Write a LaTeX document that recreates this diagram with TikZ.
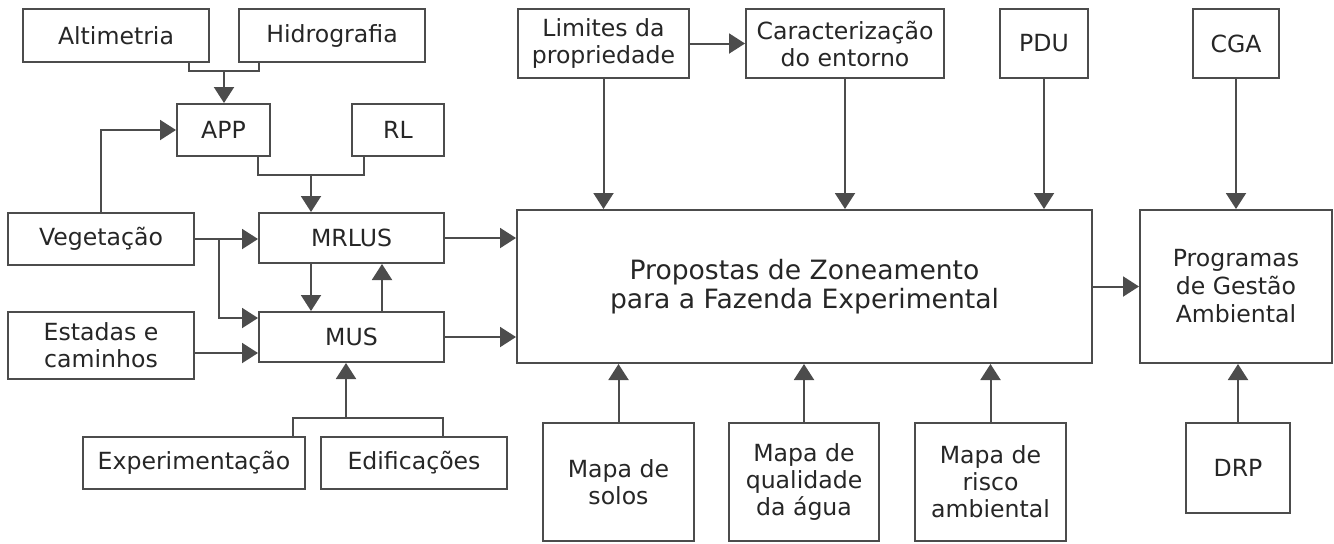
\documentclass[tikz,border=0pt]{standalone}
\usepackage{fontspec}
\setmainfont{DejaVu Sans}
\usetikzlibrary{arrows.meta}
\begin{document}
\begin{tikzpicture}[x=0.5pt, y=-0.5pt,
    box/.style={draw=black!70, line width=1pt, text=black!85, align=center, inner sep=0pt, font=\fontsize{11.8}{13.5}\selectfont},
    ln/.style={draw=black!70, line width=1pt},
    arr/.style={draw=black!70, line width=1pt, -{Triangle[length=8pt,width=10pt]}}]
\useasboundingbox (0,0) rectangle (1334,543);
% left side
\node[box, minimum width=93pt, minimum height=26.5pt] (alt) at (116,35.5) {Altimetria};
\node[box, minimum width=93pt, minimum height=26.5pt] (hid) at (332,35.5) {Hidrografia};
\node[box, minimum width=46.5pt, minimum height=26pt] (app) at (223.5,130) {APP};
\node[box, minimum width=46pt, minimum height=26pt] (rl) at (398,130) {RL};
\node[box, minimum width=93pt, minimum height=26pt] (veg) at (101,239) {Vegetação};
\node[box, minimum width=92.5pt, minimum height=25pt] (mrlus) at (351.5,238) {MRLUS};
\node[box, minimum width=93pt, minimum height=33.5pt] (est) at (101,345.5) {Estadas e\\caminhos};
\node[box, minimum width=92.5pt, minimum height=25pt] (mus) at (351.5,337) {MUS};
\node[box, minimum width=111pt, minimum height=26pt] (exp) at (194,463) {Experimentação};
\node[box, minimum width=93pt, minimum height=26pt] (edi) at (414,463) {Edificações};
% top row
\node[box, minimum width=85.5pt, minimum height=34.5pt] (lim) at (603.5,43.5) {Limites da\\propriedade};
\node[box, minimum width=99pt, minimum height=34.5pt] (car) at (845,43.5) {Caracterização\\do entorno};
\node[box, minimum width=44pt, minimum height=34.5pt] (pdu) at (1044,43.5) {PDU};
\node[box, minimum width=43pt, minimum height=34.5pt] (cga) at (1236,43.5) {CGA};
% centre
\node[box, minimum width=287.5pt, minimum height=76.5pt, font=\fontsize{13.3}{14.5}\selectfont] (prop) at (804.5,286.5) {Propostas de Zoneamento\\para a Fazenda Experimental};
\node[box, minimum width=96pt, minimum height=76.5pt, font=\fontsize{11.8}{14}\selectfont] (prog) at (1236,286.5) {Programas\\de Gestão\\Ambiental};
% bottom row
\node[box, minimum width=75.5pt, minimum height=59pt] (solos) at (618.5,482) {Mapa de\\solos};
\node[box, minimum width=75pt, minimum height=59pt] (agua) at (804,482) {Mapa de\\qualidade\\da água};
\node[box, minimum width=75.5pt, minimum height=59pt] (risco) at (990.5,482) {Mapa de\\risco\\ambiental};
\node[box, minimum width=52pt, minimum height=45pt] (drp) at (1238,468) {DRP};
% junctions
\coordinate (j1) at (224,71);
\coordinate (j2) at (311,175);
\coordinate (j3) at (219,239);
\coordinate (j4) at (346,418);
% connectors
\draw[ln] ([xshift=-10.5pt]alt.south east) |- (j1) -| ([xshift=10.5pt]hid.south west);
\draw[arr] (j1) -- (j1 |- app.north);
\draw[ln] ([xshift=-6.5pt]app.south east) |- (j2) -| ([xshift=6.5pt]rl.south west);
\draw[arr] (j2) -- (j2 |- mrlus.north);
\draw[arr] (veg.north) |- (app.west);
\draw[arr] (veg.east) -- (veg.east -| mrlus.west);
\draw[arr] (j3) |- ([yshift=9.5pt]mus.west);
\draw[arr] ([yshift=-8pt]mus.west -| est.east) -- ([yshift=-8pt]mus.west);
\draw[arr] (mrlus.south -| j2) -- (mus.north -| j2);
\draw[arr] ([xshift=15.25pt]mus.north) -- ([xshift=15.25pt]mrlus.south);
\draw[ln] ([xshift=-6.5pt]exp.north east) |- (j4) -| ([xshift=61.5pt]edi.north west);
\draw[arr] (j4) -- (j4 |- mus.south);
\draw[arr] (mrlus.east) -- (mrlus.east -| prop.west);
\draw[arr] (mus.east) -- (mus.east -| prop.west);
\draw[arr] (lim.east) -- (car.west);
\draw[arr] (lim.south) -- (lim.south |- prop.north);
\draw[arr] (car.south) -- (car.south |- prop.north);
\draw[arr] (pdu.south) -- (pdu.south |- prop.north);
\draw[arr] (cga.south) -- (cga.south |- prog.north);
\draw[arr] (prop.east) -- (prog.west);
\draw[arr] (solos.north) -- (solos.north |- prop.south);
\draw[arr] (agua.north) -- (agua.north |- prop.south);
\draw[arr] (risco.north) -- (risco.north |- prop.south);
\draw[arr] (drp.north) -- (drp.north |- prog.south);
\end{tikzpicture}
\end{document}
